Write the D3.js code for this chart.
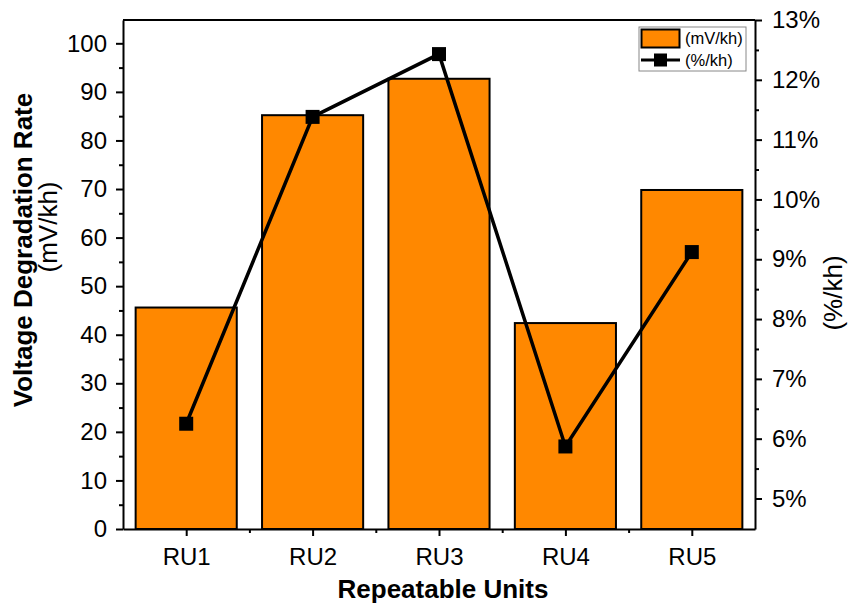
<!DOCTYPE html>
<html><head><meta charset="utf-8">
<script src="https://cdn.jsdelivr.net/npm/d3@7"></script>
<style>
body{margin:0;background:#fff}
svg text{font-family:Arial,"Liberation Sans",sans-serif;fill:#000}
</style>
</head><body>
<svg id="c" width="848" height="615"></svg>
<script>
const categories = ["RU1", "RU2", "RU3", "RU4", "RU5"];
const rateMV = [45.6, 85.2, 92.7, 42.4, 69.8];
const ratePct = [6.25, 11.38, 12.43, 5.87, 9.12];
const leftTicks = [0, 10, 20, 30, 40, 50, 60, 70, 80, 90, 100];
const leftMinor = [5, 15, 25, 35, 45, 55, 65, 75, 85, 95];
const rightTicks = [5, 6, 7, 8, 9, 10, 11, 12, 13];
const rightMinor = [5.5, 6.5, 7.5, 8.5, 9.5, 10.5, 11.5, 12.5];
const seriesNames = ["(mV/kh)", "(%/kh)"];

const L = 123, R = 755, T = 20, B = 529;
const svg = d3.select("#c");

const x = d3.scaleLinear().domain([0.5, 5.5]).range([L, R]);
const yL = d3.scaleLinear().domain([0, 104.8]).range([B, T]);
const yR = d3.scaleLinear().domain([4.49, 13]).range([B, T]);
const barW = (x(1.4) - x(0.6));
const orange = "#FF8800";

// bars
svg.append("g").selectAll("rect").data(rateMV).join("rect")
  .attr("x", (d, i) => x(i + 1) - barW / 2)
  .attr("y", d => yL(d))
  .attr("width", barW)
  .attr("height", d => yL(0) - yL(d))
  .attr("fill", orange).attr("stroke", "#000").attr("stroke-width", 2);

// line
const line = d3.line().x((d, i) => x(i + 1)).y(d => yR(d));
svg.append("path").datum(ratePct).attr("d", line)
  .attr("fill", "none").attr("stroke", "#000").attr("stroke-width", 3.5);
const ms = 14;
svg.append("g").selectAll("rect").data(ratePct).join("rect")
  .attr("x", (d, i) => x(i + 1) - ms / 2)
  .attr("y", d => yR(d) - ms / 2)
  .attr("width", ms).attr("height", ms).attr("fill", "#000");

function styleAxis(g) {
  g.selectAll("path,line").attr("stroke", "#000").attr("stroke-width", 2);
  g.selectAll("text").style("font-size", "24px").attr("fill", "#000");
}

// left axis
svg.append("g").attr("transform", `translate(${L},0)`)
  .call(d3.axisLeft(yL).tickValues(leftTicks).tickSize(7).tickSizeOuter(0).tickPadding(9))
  .call(styleAxis);
svg.append("g").attr("transform", `translate(${L},0)`)
  .call(d3.axisLeft(yL).tickValues(leftMinor).tickSize(4).tickSizeOuter(0).tickFormat(""))
  .call(styleAxis).select(".domain").remove();

// right axis
svg.append("g").attr("transform", `translate(${R},0)`)
  .call(d3.axisRight(yR).tickValues(rightTicks).tickSize(7).tickSizeOuter(0).tickPadding(10)
    .tickFormat(d => d + "%"))
  .call(styleAxis);
svg.append("g").attr("transform", `translate(${R},0)`)
  .call(d3.axisRight(yR).tickValues(rightMinor).tickSize(4).tickSizeOuter(0).tickFormat(""))
  .call(styleAxis).select(".domain").remove();

// bottom axis
svg.append("g").attr("transform", `translate(0,${B})`)
  .call(d3.axisBottom(x).tickValues(categories.map((c, i) => i + 1)).tickSize(7).tickSizeOuter(0)
    .tickPadding(12).tickFormat((d) => categories[d - 1]))
  .call(styleAxis);
svg.append("g").attr("transform", `translate(0,${B})`)
  .call(d3.axisBottom(x).tickValues([1.5, 2.5, 3.5, 4.5]).tickSize(4).tickSizeOuter(0).tickFormat(""))
  .call(styleAxis).select(".domain").remove();

// top frame
svg.append("line").attr("x1", L).attr("x2", R).attr("y1", T).attr("y2", T)
  .attr("stroke", "#000").attr("stroke-width", 2);

// titles
svg.append("text").attr("x", (L + R) / 2 + 4).attr("y", 598).attr("text-anchor", "middle")
  .style("font-size", "26px").style("font-weight", "bold").text("Repeatable Units");
svg.append("text").attr("transform", `translate(32,250) rotate(-90)`)
  .attr("text-anchor", "middle").style("font-size", "26px").style("font-weight", "bold")
  .text("Voltage Degradation Rate");
svg.append("text").attr("transform", `translate(57,227) rotate(-90)`)
  .attr("text-anchor", "middle").style("font-size", "26px").text("(mV/kh)");
svg.append("text").attr("transform", `translate(842,293) rotate(-90)`)
  .attr("text-anchor", "middle").style("font-size", "26px").text("(%/kh)");

// legend
const lg = svg.append("g");
lg.append("rect").attr("x", 639).attr("y", 27).attr("width", 107).attr("height", 44)
  .attr("fill", "#fff").attr("stroke", "#888").attr("stroke-width", 1);
lg.append("rect").attr("x", 641.5).attr("y", 29.5).attr("width", 38).attr("height", 18)
  .attr("fill", orange).attr("stroke", "#000").attr("stroke-width", 2);
lg.append("line").attr("x1", 641).attr("x2", 680).attr("y1", 60).attr("y2", 60)
  .attr("stroke", "#000").attr("stroke-width", 3);
lg.append("rect").attr("x", 654).attr("y", 53.5).attr("width", 13).attr("height", 13).attr("fill", "#000");
lg.selectAll("text.lt").data(seriesNames).join("text").attr("class", "lt")
  .attr("x", 685).attr("y", (d, i) => 44 + i * 22)
  .style("font-size", "16.5px").text(d => d);
</script>
</body></html>
